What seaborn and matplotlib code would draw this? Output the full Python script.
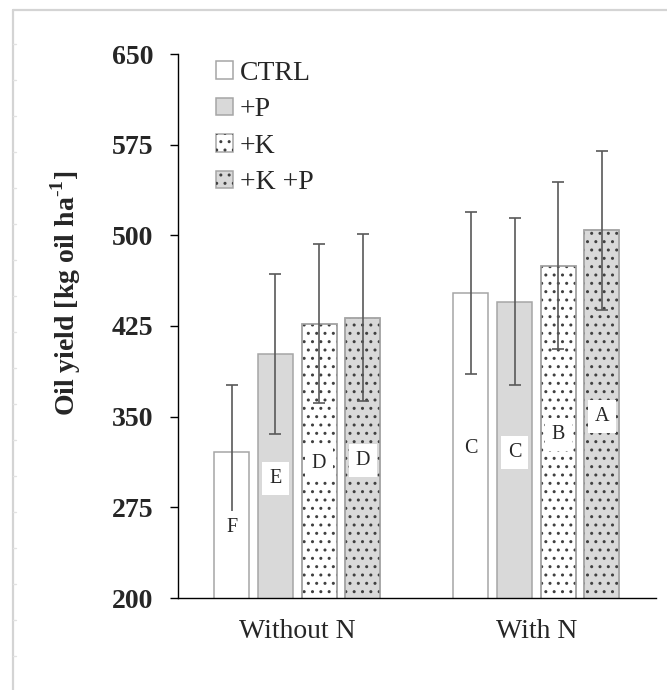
import numpy as np
import pandas as pd
import matplotlib
matplotlib.use("Agg")
import matplotlib.pyplot as plt
import seaborn as sns
from matplotlib.patches import Patch, Rectangle
from matplotlib.lines import Line2D

# ---- data ----
groups = ["Without N", "With N"]
treatments = ["CTRL", "+P", "+K", "+K +P"]
yield_without_n = [321, 402, 427, 432]
yield_with_n = [452, 445, 475, 504]
err_without_n = [55, 66, 66, 69]
err_with_n = [67, 69, 69, 66]
letters_without_n = ["F", "E", "D", "D"]
letters_with_n = ["C", "C", "B", "A"]
yticks = [200, 275, 350, 425, 500, 575, 650]

fills = ["white", "#d9d9d9", "white", "#d9d9d9"]
hatches = [None, None, "..", ".."]
edge_col = "#a6a6a6"
dot_col = "#404040"
err_col = "#595959"

sns.set_theme(style="white")
plt.rcParams["font.family"] = ["Liberation Serif", "DejaVu Serif"]
plt.rcParams["mathtext.fontset"] = "custom"
plt.rcParams["mathtext.rm"] = "Liberation Serif"
plt.rcParams["mathtext.bf"] = "Liberation Serif:bold"
plt.rcParams["hatch.linewidth"] = 1.0

df = pd.DataFrame({
    "group": np.repeat(groups, len(treatments)),
    "treatment": treatments * len(groups),
    "value": yield_without_n + yield_with_n,
})
errs = {("Without N", t): e for t, e in zip(treatments, err_without_n)}
errs.update({("With N", t): e for t, e in zip(treatments, err_with_n)})
letters = {("Without N", t): l for t, l in zip(treatments, letters_without_n)}
letters.update({("With N", t): l for t, l in zip(treatments, letters_with_n)})

fig = plt.figure(figsize=(6.67, 6.90), dpi=100)
ax = fig.add_axes([177.7 / 667, 1 - 598 / 690, (656 - 177.7) / 667, (598 - 54) / 690])

sns.barplot(data=df, x="group", y="value", hue="treatment", order=groups,
            hue_order=treatments, palette=fills, saturation=1, width=0.73,
            gap=0.2, edgecolor=edge_col, linewidth=1.1, errorbar=None,
            legend=False, ax=ax, zorder=2)

ax.set_xlim(-0.5, len(groups) - 0.5)
ax.set_ylim(yticks[0], yticks[-1])
ybase = yticks[0]

bar_containers = list(ax.containers)
for i, cont in enumerate(bar_containers):
    t = treatments[i]
    for j, bar in enumerate(cont):
        g = groups[j]
        x = bar.get_x() + bar.get_width() / 2
        v = bar.get_height() + bar.get_y()
        if hatches[i]:
            ax.add_patch(Rectangle((bar.get_x(), bar.get_y()), bar.get_width(),
                                   bar.get_height(), facecolor="none",
                                   edgecolor=dot_col, hatch=hatches[i], lw=0,
                                   zorder=2.05))
            ax.add_patch(Rectangle((bar.get_x(), bar.get_y()), bar.get_width(),
                                   bar.get_height(), fill=False,
                                   edgecolor=edge_col, lw=1.1, zorder=2.1))
        ax.errorbar(x, v, yerr=errs[(g, t)], fmt="none", ecolor=err_col,
                    elinewidth=1.2, capsize=4, capthick=1.2, zorder=3)
        ax.text(x, (ybase + v) / 2, letters[(g, t)], ha="center",
                va="center_baseline", fontsize=14.5, zorder=4,
                bbox=dict(boxstyle="square,pad=0.35", fc="white", ec="none"))

ax.set_yticks(yticks)
ax.set_yticklabels([str(y) for y in yticks], fontsize=20, fontweight="bold")
ax.tick_params(axis="y", direction="out", length=5.5, width=1, color="black",
               pad=12, left=True)
ax.tick_params(axis="x", length=0, pad=15, labelsize=20)
ax.set_xlabel("")
ax.set_ylabel("Oil yield [kg oil ha$^{\u2010\\mathbf{1}}$]", fontsize=20,
              fontweight="bold")
ax.yaxis.set_label_coords(-0.199, 0.56)

for s in ["top", "right"]:
    ax.spines[s].set_visible(False)
for s in ["left", "bottom"]:
    ax.spines[s].set_color("black")
    ax.spines[s].set_linewidth(1.0)
ax.grid(False)

handles = []
for fc, h in zip(fills, hatches):
    outline = Patch(facecolor=fc, edgecolor=edge_col, lw=1.1)
    if h:
        hp = Patch(facecolor="none", edgecolor=dot_col, hatch=h, lw=0)
        handles.append((outline, hp))
    else:
        handles.append(outline)
ax.legend(handles, treatments, loc="upper left", bbox_to_anchor=(0.08, 0.987),
          frameon=False, fontsize=20, handlelength=0.6, handleheight=0.6,
          handletextpad=0.25, labelspacing=0.41, borderpad=0, borderaxespad=0)

# outer light frame (left and top edges visible)
fx = 13 / 667
fy = 1 - 10 / 690
fig.add_artist(Line2D([fx, fx], [0, fy], transform=fig.transFigure,
                      color="#d4d4d4", lw=1.6))
fig.add_artist(Line2D([fx, 1], [fy, fy], transform=fig.transFigure,
                      color="#d4d4d4", lw=1.6))
for k in range(1, 19):
    yy = 1 - (8 + 36 * k) / 690
    fig.add_artist(Line2D([fx, fx + 2.5 / 667], [yy, yy],
                          transform=fig.transFigure, color="#e2e2e2", lw=1.0))

fig.savefig("out.png", dpi=100)
